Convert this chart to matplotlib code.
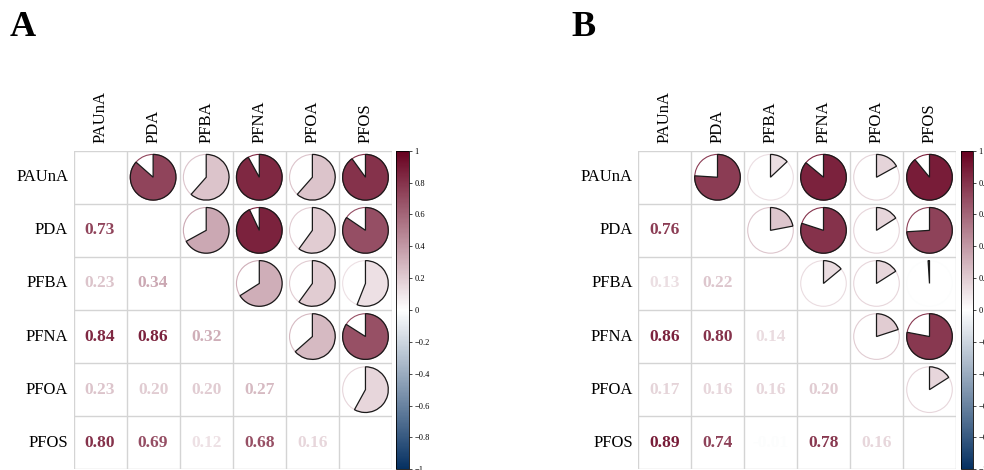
import numpy as np
import matplotlib
matplotlib.use("Agg")
import matplotlib.pyplot as plt
from matplotlib.patches import Circle, Wedge
from matplotlib.colors import LinearSegmentedColormap, Normalize
from matplotlib.cm import ScalarMappable

plt.rcParams['font.family'] = ['Liberation Serif', 'DejaVu Serif']

compounds = ["PAUnA", "PDA", "PFBA", "PFNA", "PFOA", "PFOS"]

# Lower-triangle correlations, row by row (row i holds r with columns 0..i-1)
corr_a_rows = [
    [],
    [0.73],
    [0.23, 0.34],
    [0.84, 0.86, 0.32],
    [0.23, 0.20, 0.20, 0.27],
    [0.80, 0.69, 0.12, 0.68, 0.16],
]
corr_b_rows = [
    [],
    [0.76],
    [0.13, 0.22],
    [0.86, 0.80, 0.14],
    [0.17, 0.16, 0.16, 0.20],
    [0.89, 0.74, -0.01, 0.78, 0.16],
]

cbar_ticks = [-1, -0.8, -0.6, -0.4, -0.2, 0, 0.2, 0.4, 0.6, 0.8, 1]

cmap = LinearSegmentedColormap.from_list("corr", ["#053061", "#FFFFFF", "#67001F"])
norm = Normalize(-1, 1)


def full_matrix(rows):
    n = len(rows)
    m = np.eye(n)
    for i, row in enumerate(rows):
        for j, v in enumerate(row):
            m[i, j] = v
            m[j, i] = v
    return m


W, H = 984, 470
fig = plt.figure(figsize=(W / 100, H / 100), dpi=100)


def px_axes(x0, y0, x1, y1):
    return fig.add_axes([x0 / W, 1 - y1 / H, (x1 - x0) / W, (y1 - y0) / H])


def tick_text(t):
    return f"{t:g}".replace("-", "\u2212")


def draw_panel(x0, x1, y0, y1, cb_x0, cb_x1, mat, shifted, letter, letter_x):
    n = len(compounds)
    ax = px_axes(x0, y0, x1, y1)
    ax.set_xlim(0, n)
    ax.set_ylim(n, 0)
    ax.set_axis_off()
    grid_kw = dict(color="#d4d4d4", lw=1.0, zorder=0)
    for k in range(n + 1):
        ax.plot([k, k], [0, n], **grid_kw)
        ax.plot([0, n], [k, k], **grid_kw)
    for i in range(n):
        for j in range(n):
            r = mat[i, j]
            col = cmap(norm(r))
            cx, cy = j + 0.5, i + 0.5
            if i > j:
                ax.text(cx, cy, f"{r:.2f}", ha="center", va="center",
                        fontsize=12.5, fontweight="bold", color=col)
            elif i < j:
                rad = 0.43
                ax.add_patch(Circle((cx, cy), rad, facecolor="white",
                                    edgecolor=col, lw=0.8, zorder=2))
                # pie share: (r+1)/2 of the disc, or |r| of it
                ang = (r + 1) / 2 * 360 if shifted else abs(r) * 360
                # y axis points down, so increasing angle turns clockwise;
                # 270 deg is twelve o'clock on screen
                if shifted or r >= 0:
                    t1, t2 = 270, 270 + ang
                else:
                    t1, t2 = 270 - ang, 270
                ax.add_patch(Wedge((cx, cy), rad, t1, t2, facecolor=col,
                                   edgecolor="#1a1a1a", lw=0.9, zorder=3))
    for k, name in enumerate(compounds):
        ax.text(k + 0.5, -0.14, name, rotation=90, ha="center", va="bottom",
                fontsize=12, clip_on=False)
        ax.text(-0.1, k + 0.5, name, ha="right", va="center",
                fontsize=12, clip_on=False)

    cax = px_axes(cb_x0, y0, cb_x1, y1)
    cb = fig.colorbar(ScalarMappable(norm=norm, cmap=cmap), cax=cax,
                      ticks=cbar_ticks)
    cb.ax.set_yticklabels([tick_text(t) for t in cbar_ticks])
    cb.ax.tick_params(labelsize=6, length=2, width=0.5, pad=2)
    cb.outline.set_linewidth(0.6)

    fig.text(letter_x / W, 1 - 27 / H, letter, fontsize=26, fontweight="bold",
             ha="left", va="center")


corr_a = full_matrix(corr_a_rows)
corr_b = full_matrix(corr_b_rows)

draw_panel(73.5, 392, 150.7, 469.3, 396, 409, corr_a, True, "A", 10)
draw_panel(638, 956, 150.7, 469.3, 961, 973, corr_b, False, "B", 571)

fig.savefig("out.png", dpi=100)
